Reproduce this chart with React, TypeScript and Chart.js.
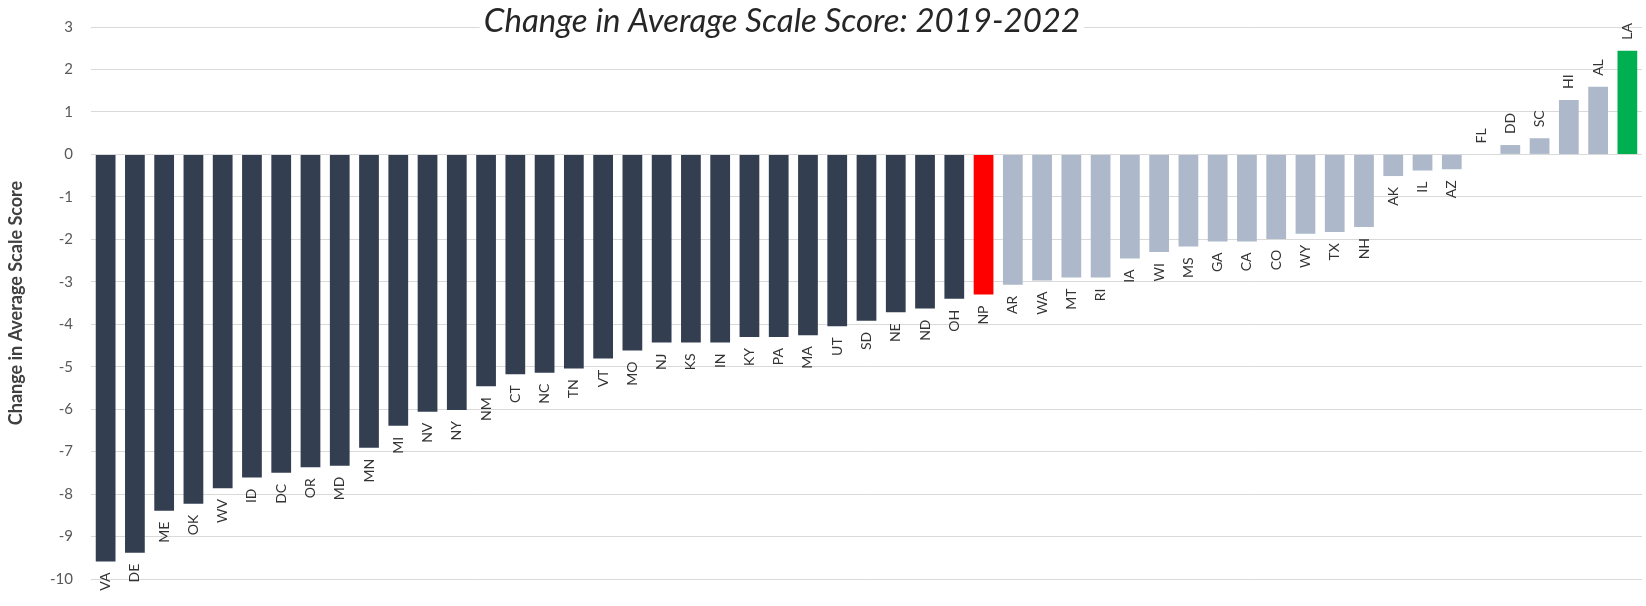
import React, { useEffect, useRef } from 'react';
import { Chart, registerables } from 'chart.js';

Chart.register(...registerables);

const chartTitle = 'Change in Average Scale Score: 2019-2022';
const yAxisTitle = 'Change in Average Scale Score';

const categories = [
  'VA', 'DE', 'ME', 'OK', 'WV', 'ID', 'DC', 'OR', 'MD', 'MN',
  'MI', 'NV', 'NY', 'NM', 'CT', 'NC', 'TN', 'VT', 'MO', 'NJ',
  'KS', 'IN', 'KY', 'PA', 'MA', 'UT', 'SD', 'NE', 'ND', 'OH',
  'NP',
  'AR', 'WA', 'MT', 'RI', 'IA', 'WI', 'MS', 'GA', 'CA', 'CO',
  'WY', 'TX', 'NH', 'AK', 'IL', 'AZ', 'FL', 'DD', 'SC', 'HI',
  'AL', 'LA',
];

const scoreChange = [
  -9.59, -9.38, -8.39, -8.23, -7.86, -7.61, -7.5, -7.37, -7.33, -6.91,
  -6.39, -6.06, -6.02, -5.46, -5.18, -5.14, -5.04, -4.81, -4.62, -4.43,
  -4.43, -4.43, -4.3, -4.3, -4.26, -4.05, -3.92, -3.72, -3.63, -3.4,
  -3.3,
  -3.07, -2.97, -2.9, -2.9, -2.45, -2.3, -2.17, -2.05, -2.05, -1.99,
  -1.87, -1.83, -1.71, -0.51, -0.38, -0.35, 0, 0.22, 0.38, 1.28,
  1.59, 2.44,
];

const significantDecreases = [
  'VA', 'DE', 'ME', 'OK', 'WV', 'ID', 'DC', 'OR', 'MD', 'MN',
  'MI', 'NV', 'NY', 'NM', 'CT', 'NC', 'TN', 'VT', 'MO', 'NJ',
  'KS', 'IN', 'KY', 'PA', 'MA', 'UT', 'SD', 'NE', 'ND', 'OH',
];
const significantIncreases = ['LA'];
const nationalPublic = ['NP'];

const yTicksMin = -10;
const yTicksMax = 3;

const COLORS = {
  decrease: '#333F50',
  increase: '#00B050',
  national: '#FF0000',
  other: '#ADB9CA',
  grid: '#D9D9D9',
  tick: '#595959',
  label: '#333333',
  axisTitle: '#404040',
  title: '#262626',
};

const FONT = 'Lato';

function barColor(code: string): string {
  if (nationalPublic.includes(code)) return COLORS.national;
  if (significantIncreases.includes(code)) return COLORS.increase;
  if (significantDecreases.includes(code)) return COLORS.decrease;
  return COLORS.other;
}

const barLabelPlugin = {
  id: 'barLabels',
  afterDatasetsDraw(chart: any) {
    const ctx = chart.ctx;
    const meta = chart.getDatasetMeta(0);
    const zeroY = chart.scales.y.getPixelForValue(0);
    ctx.save();
    ctx.font = `14px ${FONT}`;
    ctx.fillStyle = COLORS.label;
    ctx.textBaseline = 'middle';
    meta.data.forEach((el: any, i: number) => {
      const v = scoreChange[i];
      const gap = 11;
      ctx.save();
      if (v < 0) {
        ctx.translate(el.x, el.y + gap);
        ctx.rotate(-Math.PI / 2);
        ctx.textAlign = 'right';
      } else {
        ctx.translate(el.x, Math.min(el.y, zeroY) - gap);
        ctx.rotate(-Math.PI / 2);
        ctx.textAlign = 'left';
      }
      ctx.fillText(categories[i], 0, 0);
      ctx.restore();
    });
    ctx.restore();
  },
};

const titlePlugin = {
  id: 'boxedTitle',
  afterDraw(chart: any) {
    const ctx = chart.ctx;
    ctx.save();
    ctx.font = `italic 33px ${FONT}`;
    const w = ctx.measureText(chartTitle).width;
    const cx = 782;
    ctx.fillStyle = '#FFFFFF';
    ctx.fillRect(cx - w / 2 - 4, 3, w + 8, 38);
    ctx.fillStyle = COLORS.title;
    ctx.textAlign = 'center';
    ctx.textBaseline = 'alphabetic';
    ctx.fillText(chartTitle, cx, 32);
    ctx.restore();
  },
};

export default function App() {
  const canvasRef = useRef<HTMLCanvasElement | null>(null);

  useEffect(() => {
    document.body.style.margin = '0';
    const canvas = canvasRef.current;
    if (!canvas) return;
    const chart = new Chart(canvas, {
      type: 'bar',
      data: {
        labels: categories,
        datasets: [
          {
            data: scoreChange,
            backgroundColor: categories.map(barColor),
            borderWidth: 0,
            categoryPercentage: 1,
            barPercentage: 0.675,
          },
        ],
      },
      options: {
        responsive: false,
        animation: false,
        devicePixelRatio: 1,
        layout: { padding: { top: 17, bottom: 16, left: 0, right: 4 } },
        plugins: {
          legend: { display: false },
          tooltip: { enabled: false },
          title: { display: false },
        },
        scales: {
          x: {
            display: false,
            grid: { display: false },
          },
          y: {
            min: yTicksMin,
            max: yTicksMax,
            border: { display: false },
            grid: { color: COLORS.grid, lineWidth: 1, drawTicks: false },
            ticks: {
              stepSize: 1,
              padding: 18,
              color: COLORS.tick,
              font: { family: FONT, size: 15 },
            },
            title: {
              display: true,
              text: yAxisTitle,
              color: COLORS.axisTitle,
              font: { family: FONT, size: 18, weight: 'bold' },
              padding: { top: 5, bottom: 0 },
            },
            afterFit(scale: any) {
              scale.width = 91;
            },
          },
        },
      },
      plugins: [barLabelPlugin, titlePlugin],
    });
    return () => chart.destroy();
  }, []);

  return (
    <div style={{ width: 1646, height: 606 }}>
      <canvas ref={canvasRef} width={1646} height={606} />
    </div>
  );
}
